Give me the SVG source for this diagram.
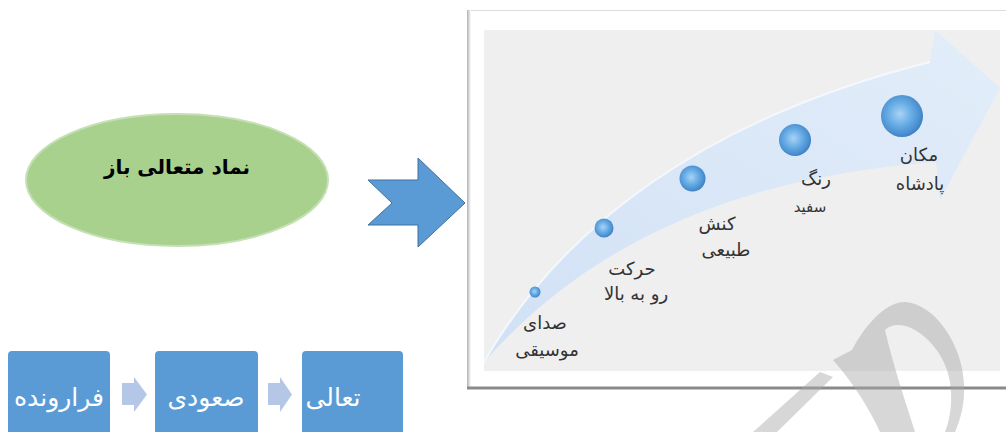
<svg xmlns="http://www.w3.org/2000/svg" width="1006" height="432" viewBox="0 0 1006 432">
<defs>
<style>
.lbl{font-family:"DejaVu Sans",sans-serif;font-size:18px;fill:#333;text-anchor:middle}
.box{fill:#5b9bd5}
.boxt{font-family:"DejaVu Sans",sans-serif;font-size:25px;fill:#fff;text-anchor:middle}
.sm{fill:#b4c7e7}
</style>
<radialGradient id="sph" cx="0.45" cy="0.45" r="0.6">
<stop offset="0" stop-color="#a9d3f5"/>
<stop offset="0.45" stop-color="#6aaee6"/>
<stop offset="0.8" stop-color="#4a8fd0"/>
<stop offset="1" stop-color="#3a78b8"/>
</radialGradient>
<linearGradient id="arr" x1="0" y1="1" x2="1" y2="0">
<stop offset="0" stop-color="#cfe0f5"/>
<stop offset="1" stop-color="#e2edfa"/>
</linearGradient>
<linearGradient id="lsh" x1="0" y1="0" x2="1" y2="0">
<stop offset="0" stop-color="#b0b0b0"/>
<stop offset="1" stop-color="#ffffff"/>
</linearGradient>
</defs>

<g id="frame">
<rect x="467" y="10" width="539" height="378" fill="#fff"/>
<line x1="467" y1="10.5" x2="1006" y2="10.5" stroke="#dcdcdc" stroke-width="1"/>
<rect x="467" y="10" width="4" height="378" fill="url(#lsh)"/>
<rect x="484" y="30" width="516" height="341" fill="#efefef"/>
<line x1="467" y1="388" x2="1006" y2="388" stroke="#8a8a8a" stroke-width="3"/>
</g>

<g id="bigarrow">
<path d="M484,362 C560,230 700,120 930,62 L935,30 L1000,88 L940,200 L936,162 C760,175 600,230 484,362 Z" fill="url(#arr)" opacity="0.95"/>
<path d="M484,362 C560,230 700,120 930,62" fill="none" stroke="#f4f8fd" stroke-width="2"/>
</g>

<g id="s1"><circle cx="535" cy="292" r="5.5" fill="url(#sph)"/>
<text class="lbl" x="545" y="329">صدای</text>
<text class="lbl" x="547" y="356">موسیقی</text></g>
<g id="s2"><circle cx="604" cy="228" r="9.5" fill="url(#sph)"/>
<text class="lbl" x="632" y="275">حرکت</text>
<text class="lbl" x="636" y="300">رو به بالا</text></g>
<g id="s3"><circle cx="692.5" cy="178.5" r="13" fill="url(#sph)"/>
<text class="lbl" x="717" y="230">کنش</text>
<text class="lbl" x="726" y="256">طبیعی</text></g>
<g id="s4"><circle cx="795" cy="140" r="16" fill="url(#sph)"/>
<text class="lbl" x="816" y="185">رنگ</text>
<text class="lbl" x="810" y="212" style="font-size:15px">سفید</text></g>
<g id="s5"><circle cx="902" cy="116" r="21" fill="url(#sph)"/>
<text class="lbl" x="919" y="161">مکان</text>
<text class="lbl" x="920" y="190">پادشاه</text></g>

<g id="ellipse">
<ellipse cx="177" cy="180" rx="151" ry="66" fill="#a9d18e" stroke="#c5e0b4" stroke-width="2"/>
<text x="177" y="174" style="font-family:'DejaVu Sans',sans-serif;font-size:20px;font-weight:bold;fill:#000;text-anchor:middle">نماد متعالی باز</text>
</g>

<g id="connectors">
<path d="M368,180 L418,180 L418,158 L465,203 L418,247 L418,225 L368,225 L392,203 Z" fill="#5b9bd5" stroke="#41719c" stroke-width="1"/>
<path class="sm" d="M122,383 L134,383 L134,377 L147,394.5 L134,412 L134,405 L122,405 Z"/>
<path class="sm" d="M268,383 L280,383 L280,377 L292,394.5 L280,412 L280,405 L268,405 Z"/>
</g>

<g id="b1"><rect class="box" x="8" y="351" width="102" height="90" rx="4"/>
<text class="boxt" x="59" y="406">فرارونده</text></g>
<g id="b2"><rect class="box" x="155" y="351" width="103" height="90" rx="4"/>
<text class="boxt" x="206" y="406">صعودی</text></g>
<g id="b3"><rect class="box" x="302" y="351" width="101" height="90" rx="4"/>
<text class="boxt" x="333" y="406">تعالی</text></g>

<g id="watermark" fill="#a8a8a8" opacity="0.45" fill-rule="evenodd">
<path d="M753,432 L777,432 L833,377 L820,372 Z"/>
<path d="M833,360 L852,350 C868,320 888,302 905,302 C935,304 963,345 964,385 C965,405 960,420 955,432 L880,432 C870,410 855,385 833,360 Z M885,330 C900,315 935,335 947,370 C955,395 950,420 945,432 L915,432 C905,400 893,365 885,330 Z"/>
</g>
</svg>
